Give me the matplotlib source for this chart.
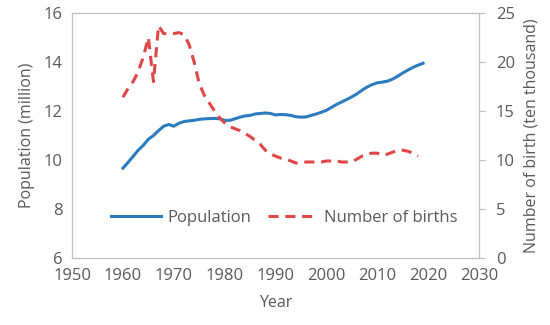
import matplotlib.pyplot as plt

years = list(range(1960, 2020))
population = [9.67, 9.9, 10.15, 10.4, 10.6, 10.85, 11.0, 11.2, 11.38, 11.45,
              11.38, 11.5, 11.57, 11.6, 11.62, 11.66, 11.68, 11.69, 11.7, 11.68,
              11.62, 11.62, 11.68, 11.75, 11.8, 11.82, 11.88, 11.9, 11.92, 11.9,
              11.84, 11.86, 11.85, 11.82, 11.77, 11.75, 11.76, 11.82, 11.88, 11.95,
              12.03, 12.15, 12.27, 12.37, 12.47, 12.58, 12.7, 12.85, 12.98, 13.08,
              13.15, 13.18, 13.22, 13.3, 13.42, 13.55, 13.67, 13.78, 13.87, 13.95]

birth_years = list(range(1960, 2019))
births = [16.4, 17.3, 18.0, 19.0, 20.5, 22.5, 18.0, 23.7, 22.9, 22.9,
          22.9, 23.0, 22.8, 21.8, 20.0, 17.8, 16.6, 15.8, 15.0, 14.3,
          13.8, 13.4, 13.2, 13.0, 12.7, 12.4, 12.0, 11.6, 11.0, 10.6,
          10.4, 10.2, 10.1, 9.9, 9.7, 9.7, 9.8, 9.8, 9.8, 9.8,
          9.9, 9.9, 9.9, 9.8, 9.8, 9.8, 10.1, 10.4, 10.6, 10.7,
          10.7, 10.5, 10.6, 10.8, 11.0, 11.0, 10.9, 10.7, 10.4]

txt = '#595959'
edge = '#bfbfbf'
plt.rcParams['font.family'] = ['Open Sans', 'DejaVu Sans']
plt.rcParams['font.size'] = 12

fig = plt.figure(figsize=(5.5, 3.25), dpi=100)
ax = fig.add_axes([0.131, 0.206, 0.74, 0.754])
ax2 = ax.twinx()

l1, = ax.plot(years, population, color='#2b7bbf', lw=2.2, label='Population')
l2, = ax2.plot(birth_years, births, color='#e04646', lw=2.2, ls=(0, (3.3, 2.2)),
               label='Number of births')

ax.set_xlim(1950, 2030)
ax.set_ylim(6, 16)
ax2.set_ylim(0, 25)
ax.set_xticks(range(1950, 2031, 10))
ax.set_yticks(range(6, 17, 2))
ax2.set_yticks(range(0, 26, 5))

for a in (ax, ax2):
    for s in a.spines.values():
        s.set_color(edge)
ax.tick_params(axis='both', colors=txt, length=0, pad=7)
ax2.tick_params(axis='y', colors=txt, length=4, color=edge, pad=8)

ax.set_xlabel('Year', color=txt, fontsize=11.5, labelpad=8)
ax.set_ylabel('Population (million)', color=txt, fontsize=11.5, labelpad=6)
ax2.set_ylabel('Number of birth (ten thousand)', color=txt, fontsize=11.5, labelpad=6)

leg = ax.legend(handles=[l1, l2], loc='center left', bbox_to_anchor=(0.076, 0.163),
                ncol=2, frameon=False, borderpad=0, handlelength=3.0,
                columnspacing=1.0, handletextpad=0.35)
for t in leg.get_texts():
    t.set_color(txt)

fig.savefig('out.png')
